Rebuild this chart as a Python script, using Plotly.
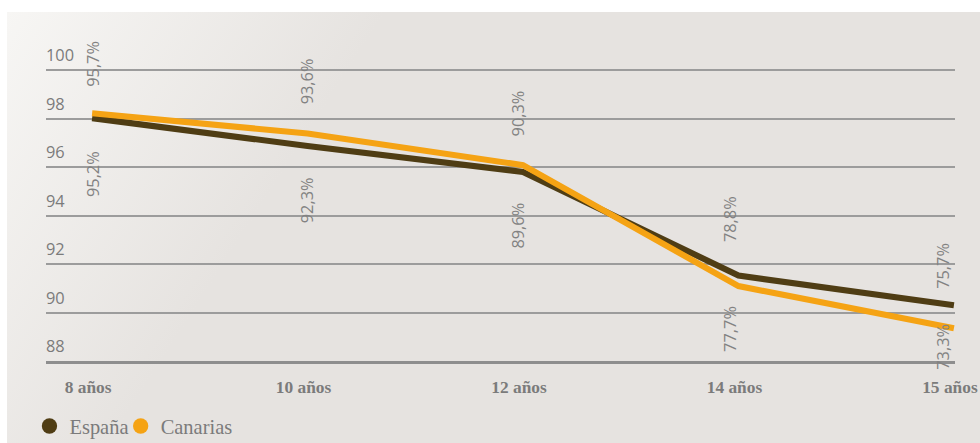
import base64
import plotly.graph_objects as go

# ---------------- data ----------------
categories = ["8 años", "10 años", "12 años", "14 años", "15 años"]
espana = [95.2, 92.3, 89.6, 78.8, 75.7]
canarias = [95.7, 93.6, 90.3, 77.7, 73.3]
y_ticks = [88, 90, 92, 94, 96, 98, 100]
series_names = ["España", "Canarias"]

# ---------------- style ----------------
COL_ESP = "#4f3d14"
COL_CAN = "#f5a314"
GRAY_TXT = "#7b7b7b"
GRID = "#9c9c9c"
PANEL = "#e6e3e0"
SANS = "Open Sans"
SERIF = "Liberation Serif"

# target picture space (980x443) and figure size (browser viewport)
TW, TH = 980, 443
W, H = 990, 458
KX, KY = W / TW, H / TH
KF = (KX + KY) / 2

ML_t, MR_t, MT_t, MB_t = 46, 27, 35, 84
ML, MR, MT, MB = ML_t * KX, MR_t * KX, MT_t * KY, MB_t * KY
PW_t, PH_t = TW - ML_t - MR_t, TH - MT_t - MB_t

# axis ranges: y=100 sits at target pixel 69, y=88 at 359
Y_TOP = 100 + (69 - MT_t) * 12 / 290
Y2_TOP = 100.2 + (69 - MT_t) * 30.3 / 290

fig = go.Figure()

for name, vals, col in [(series_names[0], espana, COL_ESP), (series_names[1], canarias, COL_CAN)]:
    fig.add_trace(go.Scatter(
        x=categories, y=vals, yaxis="y2", mode="lines",
        line=dict(color=col, width=6 * KF), showlegend=False, hoverinfo="skip"))

for name, col, lg in [(series_names[0], COL_ESP, "legend"), (series_names[1], COL_CAN, "legend2")]:
    fig.add_trace(go.Scatter(
        x=[None], y=[None], mode="markers", name=name, legend=lg,
        marker=dict(color=col, size=15 * KF, symbol="circle"), showlegend=True))

# label offsets in target pixels
top_shift = [48, 50, 50, 55, 38]
bot_shift = [-54, -53, -52, -41, -18]
x_shift = [1, -1, -5, -9, -11]

def fmt(v):
    return f"{v:.1f}".replace(".", ",") + "%"

annotations = []
for i, cat in enumerate(categories):
    hi = max(espana[i], canarias[i])
    lo = min(espana[i], canarias[i])
    for v, ys in [(hi, top_shift[i]), (lo, bot_shift[i])]:
        annotations.append(dict(
            x=cat, y=v, xref="x", yref="y2", text=fmt(v), showarrow=False,
            textangle=-90, xanchor="center", yanchor="middle",
            xshift=x_shift[i] * KX, yshift=ys * KY,
            font=dict(family=SANS, size=16 * KF, color="#828282")))

# gradient background panel
px0, py0 = 7, 11
pw, ph = TW - px0, TH - py0
svg = (
    f'<svg xmlns="http://www.w3.org/2000/svg" width="{pw}" height="{ph}" '
    f'viewBox="0 0 {pw} {ph}" preserveAspectRatio="none">'
    '<defs><linearGradient id="g" gradientUnits="userSpaceOnUse" x1="0" y1="0" x2="260" y2="170">'
    f'<stop offset="0" stop-color="#f7f6f4"/><stop offset="1" stop-color="{PANEL}"/>'
    '</linearGradient></defs>'
    f'<rect x="0" y="0" width="{pw}" height="{ph}" fill="url(#g)"/></svg>'
)
src = "data:image/svg+xml;base64," + base64.b64encode(svg.encode()).decode()

def lx(px):
    return (px - ML_t) / PW_t

def ly(py):
    return (MT_t + PH_t - py) / PH_t

leg_common = dict(
    orientation="h", xanchor="left", yanchor="middle", y=ly(424),
    font=dict(family=SERIF, size=20 * KF, color=GRAY_TXT),
    bgcolor="rgba(0,0,0,0)", itemclick=False, itemdoubleclick=False)

fig.update_layout(
    width=W, height=H, autosize=False,
    margin=dict(l=ML, r=MR, t=MT, b=MB, pad=0),
    paper_bgcolor="white",
    plot_bgcolor="rgba(0,0,0,0)",
    images=[dict(
        source=src, xref="paper", yref="paper",
        x=lx(px0), y=ly(py0), sizex=pw / PW_t + 0.02, sizey=ph / PH_t + 0.05,
        xanchor="left", yanchor="top", sizing="stretch", layer="below")],
    xaxis=dict(
        type="category", range=[-0.214, 4.005],
        showgrid=False, zeroline=False,
        showline=True, linecolor="#8e8e8e", linewidth=3 * KF,
        ticks="", ticklabelstandoff=round(8 * KY), ticklabelshift=round(-4 * KX),
        tickfont=dict(family=SERIF, size=17 * KF, color=GRAY_TXT, weight="bold"),
        fixedrange=True),
    yaxis=dict(
        range=[88, Y_TOP], tickvals=y_ticks, ticktext=[str(t) for t in y_ticks],
        ticklabelposition="inside top", ticklabelstandoff=-3, ticklabelshift=-3,
        showgrid=True, gridcolor=GRID, gridwidth=1.5 * KF,
        zeroline=False, showline=False, ticks="",
        tickfont=dict(family=SANS, size=16 * KF, color=GRAY_TXT),
        fixedrange=True),
    yaxis2=dict(range=[69.9, Y2_TOP], overlaying="y", visible=False, fixedrange=True),
    legend=dict(x=lx(29.5), **leg_common),
    legend2=dict(x=lx(120.5), **leg_common),
    annotations=annotations,
    showlegend=True,
)

fig.write_html(
    "out.html",
    config={"displayModeBar": False, "responsive": False},
    post_script=(
        "document.documentElement.style.margin='0';"
        "document.body.style.margin='0';"
        f"document.documentElement.style.background='{PANEL}';"
        f"document.body.style.background='{PANEL}';"
    ),
)
